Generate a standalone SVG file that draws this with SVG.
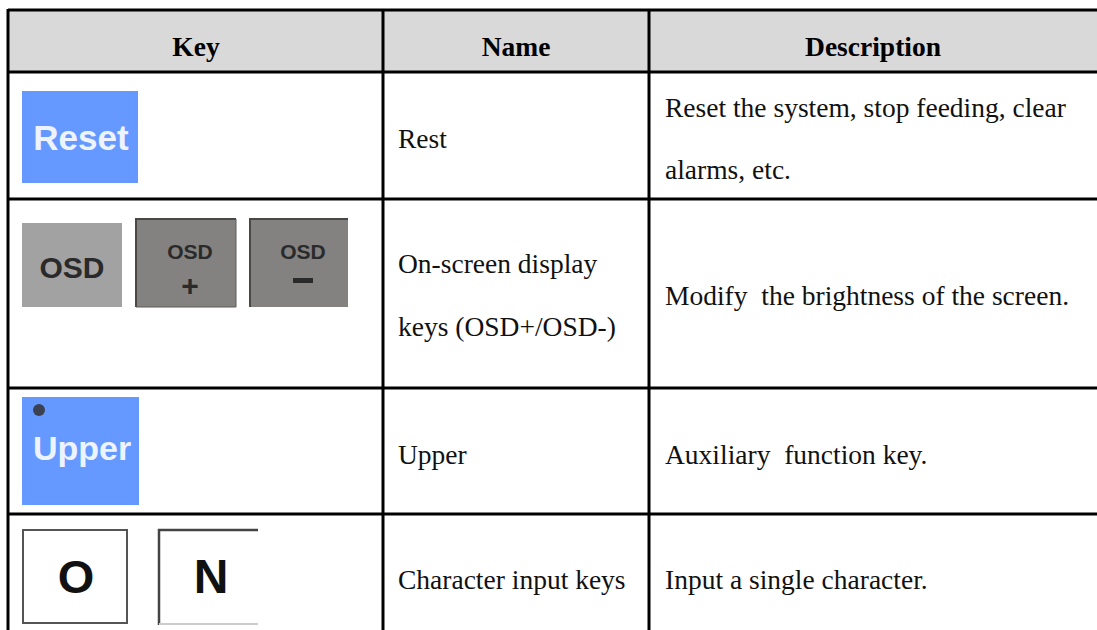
<svg xmlns="http://www.w3.org/2000/svg" width="1097" height="630" viewBox="0 0 1097 630">
<style>
.grid{stroke:#000;stroke-width:3;fill:none}
.hd{font-family:"Liberation Serif","Times New Roman",serif;font-weight:bold;font-size:27.5px;fill:#000;text-anchor:middle}
.tx{font-family:"Liberation Serif","Times New Roman",serif;font-size:27.5px;fill:#111}
.btn{font-family:"Liberation Sans",Arial,sans-serif;font-weight:bold;text-anchor:middle}
.blue{fill:#6699ff}
.wt{fill:#eef4ff}
.dk{fill:#2a2a2a}
</style>
<rect x="8" y="10" width="1089" height="62" fill="#d9d9d9"/>
<g id="grid" class="grid">
<line x1="8" y1="10" x2="1097" y2="10"/>
<line x1="8" y1="72" x2="1097" y2="72"/>
<line x1="8" y1="199" x2="1097" y2="199"/>
<line x1="8" y1="388" x2="1097" y2="388"/>
<line x1="8" y1="514" x2="1097" y2="514"/>
<line x1="8" y1="9" x2="8" y2="630"/>
<line x1="383" y1="9" x2="383" y2="630"/>
<line x1="649" y1="9" x2="649" y2="630"/>
</g>
<g id="header">
<text class="hd" x="196" y="56">Key</text>
<text class="hd" x="516" y="56">Name</text>
<text class="hd" x="873" y="56">Description</text>
</g>
<g id="row-reset">
<rect class="blue" x="22" y="91" width="116" height="92"/>
<text class="btn wt" x="81" y="150" font-size="35">Reset</text>
<text class="tx" x="398" y="148">Rest</text>
<text class="tx" x="665" y="117">Reset the system, stop feeding, clear</text>
<text class="tx" x="665" y="179">alarms, etc.</text>
</g>
<g id="row-osd">
<rect x="22" y="223" width="100" height="84" fill="#a2a2a2"/>
<text class="btn dk" x="72" y="278" font-size="30">OSD</text>
<rect x="136" y="219" width="100" height="88" fill="#838281"/>
<path d="M136 307V219H236" fill="none" stroke="#4a4744" stroke-width="2"/>
<path d="M136 307H236V219" fill="none" stroke="#5e5b58" stroke-width="1"/>
<text class="btn dk" x="190" y="259" font-size="21">OSD</text>
<text class="btn dk" x="190" y="296" font-size="30">+</text>
<rect x="250" y="219" width="98" height="88" fill="#838281"/>
<path d="M250 307V219H348" fill="none" stroke="#4a4744" stroke-width="2"/>
<text class="btn dk" x="303" y="259" font-size="21">OSD</text>
<rect x="293" y="278" width="20" height="5" fill="#2a2a2a"/>
<text class="tx" x="398" y="273">On-screen display</text>
<text class="tx" x="398" y="336">keys (OSD+/OSD-)</text>
<text class="tx" x="665" y="305" xml:space="preserve">Modify  the brightness of the screen.</text>
</g>
<g id="row-upper">
<rect class="blue" x="22" y="397" width="117" height="108"/>
<circle cx="39" cy="410" r="6" fill="#3b4150"/>
<text class="btn wt" x="82" y="460" font-size="34">Upper</text>
<text class="tx" x="398" y="464">Upper</text>
<text class="tx" x="665" y="464" xml:space="preserve">Auxiliary  function key.</text>
</g>
<g id="row-char">
<rect x="23" y="530" width="104" height="93" fill="#fff" stroke="#555" stroke-width="2"/>
<text class="btn" x="76" y="593" font-size="47" fill="#111">O</text>
<rect x="158" y="529" width="100" height="96" fill="#fff"/>
<path d="M159 625V530H258" fill="none" stroke="#444" stroke-width="2.5"/>
<line x1="159" y1="624" x2="258" y2="624" stroke="#ccc" stroke-width="2"/>
<text class="btn" x="211" y="593" font-size="48" fill="#111">N</text>
<text class="tx" x="398" y="589">Character input keys</text>
<text class="tx" x="665" y="589">Input a single character.</text>
</g>
</svg>
